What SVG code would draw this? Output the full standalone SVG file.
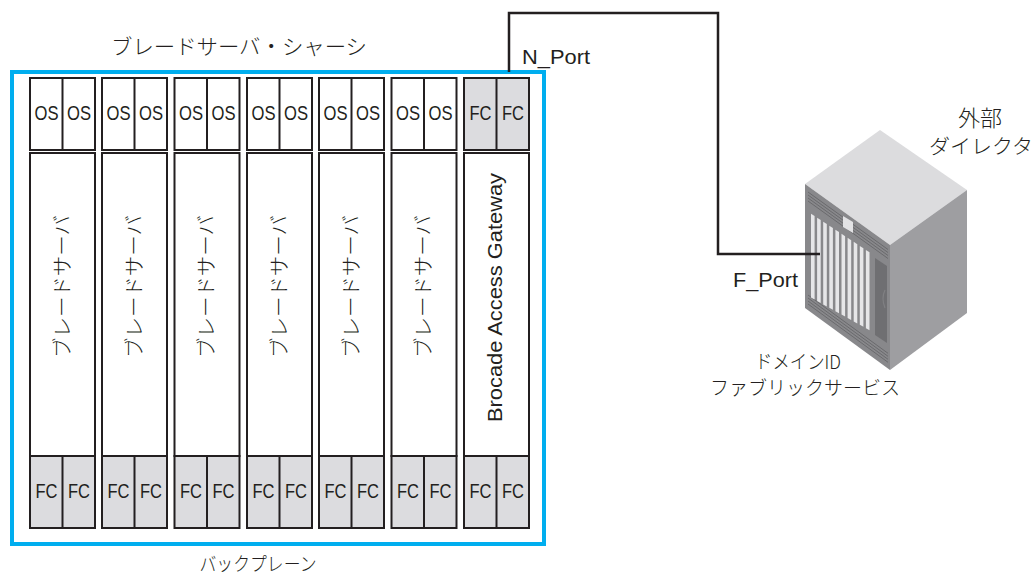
<svg xmlns="http://www.w3.org/2000/svg" width="1035" height="575" viewBox="0 0 1035 575">
  <style>
    .box { fill: #ffffff; stroke: #231f20; stroke-width: 2; }
    .fc { fill: #dcdcdf; stroke: #231f20; stroke-width: 2; }
    .div { stroke: #231f20; stroke-width: 2; }
    .lat { font-family: "Liberation Sans", Arial, sans-serif; fill: #231f20; font-size: 21px; }
    .jp { font-family: "Noto Sans CJK JP", sans-serif; fill: #231f20; font-weight: 300; }
    .wire { fill: none; stroke: #231f20; stroke-width: 2.5; }
    .vent { stroke: #6a6a6d; stroke-width: 1; }
    .bar { fill: #e6e6e8; }
  </style>
  <defs>
    <!-- one blade slot: OS pair on top, body, FC pair at the bottom -->
    <g id="slot">
      <rect class="box" x="0" y="78" width="65" height="72"/>
      <line class="div" x1="32.5" y1="78" x2="32.5" y2="150"/>
      <text class="lat" x="16.5" y="120" text-anchor="middle" textLength="24" lengthAdjust="spacingAndGlyphs">OS</text>
      <text class="lat" x="49" y="120" text-anchor="middle" textLength="24" lengthAdjust="spacingAndGlyphs">OS</text>
      <rect class="box" x="0" y="153" width="65" height="303"/>
      <text class="jp" font-size="20" transform="translate(39.5,286.5) rotate(-90)" text-anchor="middle" textLength="143" lengthAdjust="spacingAndGlyphs">ブレードサーバ</text>
      <rect class="fc" x="0" y="456" width="65" height="72"/>
      <line class="div" x1="32.5" y1="456" x2="32.5" y2="528"/>
      <text class="lat" x="16.5" y="498" text-anchor="middle" textLength="22" lengthAdjust="spacingAndGlyphs">FC</text>
      <text class="lat" x="49" y="498" text-anchor="middle" textLength="22" lengthAdjust="spacingAndGlyphs">FC</text>
    </g>
  </defs>

  <!-- blade server chassis -->
  <g id="chassis">
    <rect x="12" y="72" width="532" height="472" fill="none" stroke="#00aeef" stroke-width="4"/>
    <text class="jp" font-size="21" x="239" y="54" text-anchor="middle" textLength="256" lengthAdjust="spacingAndGlyphs">ブレードサーバ・シャーシ</text>
    <text class="jp" font-size="19" x="258" y="571" text-anchor="middle" textLength="117" lengthAdjust="spacingAndGlyphs">バックプレーン</text>
  </g>

  <g id="blade-1"><use href="#slot" x="30"/></g>
  <g id="blade-2"><use href="#slot" x="102"/></g>
  <g id="blade-3"><use href="#slot" x="174.5"/></g>
  <g id="blade-4"><use href="#slot" x="247"/></g>
  <g id="blade-5"><use href="#slot" x="319"/></g>
  <g id="blade-6"><use href="#slot" x="391.5"/></g>

  <!-- access gateway module -->
  <g id="access-gateway">
    <rect class="fc" x="464" y="78" width="65" height="72"/>
    <line class="div" x1="496.5" y1="78" x2="496.5" y2="150"/>
    <text class="lat" x="480.5" y="120" text-anchor="middle" textLength="22" lengthAdjust="spacingAndGlyphs">FC</text>
    <text class="lat" x="513" y="120" text-anchor="middle" textLength="22" lengthAdjust="spacingAndGlyphs">FC</text>
    <rect class="box" x="464" y="153" width="65" height="303"/>
    <text class="lat" transform="translate(502,297.5) rotate(-90)" text-anchor="middle" textLength="249" lengthAdjust="spacingAndGlyphs">Brocade Access Gateway</text>
    <rect class="fc" x="464" y="456" width="65" height="72"/>
    <line class="div" x1="496.5" y1="456" x2="496.5" y2="528"/>
    <text class="lat" x="480.5" y="498" text-anchor="middle" textLength="22" lengthAdjust="spacingAndGlyphs">FC</text>
    <text class="lat" x="513" y="498" text-anchor="middle" textLength="22" lengthAdjust="spacingAndGlyphs">FC</text>
  </g>

  <!-- external director cabinet -->
  <g id="director">
    <polygon points="880,130 967,190 890,245 805,184" fill="#dcdcde"/>
    <polygon points="805,184 890,245 890,370 805,308" fill="#88888b"/>
    <polygon points="890,245 967,190 967,313 890,370" fill="#9e9ea1"/>
    <!-- top vents -->
    <line class="vent" x1="808" y1="192" x2="888" y2="249.5"/>
    <line class="vent" x1="808" y1="195" x2="888" y2="252.5"/>
    <line class="vent" x1="808" y1="198" x2="888" y2="255.5"/>
    <line class="vent" x1="808" y1="201" x2="888" y2="258.5"/>
    <!-- bottom vents -->
    <line class="vent" x1="808" y1="295" x2="888" y2="353.3"/>
    <line class="vent" x1="808" y1="298" x2="888" y2="356.3"/>
    <line class="vent" x1="808" y1="301" x2="888" y2="359.3"/>
    <line class="vent" x1="808" y1="304" x2="888" y2="362.3"/>
    <!-- badge -->
    <polygon points="843,216 853,222 853,233 843,227" fill="#e2e2e4"/>
    <!-- card slots -->
    <polygon class="bar" points="811,213.7 814.6,216 814.6,299.6 811,297.6"/>
    <polygon class="bar" points="817.1,217.7 820.7,220.1 820.7,303 817.1,301"/>
    <polygon class="bar" points="823.2,221.7 826.8,224.1 826.8,306.4 823.2,304.4"/>
    <polygon class="bar" points="829.3,225.7 832.9,228.1 832.9,309.8 829.3,307.8"/>
    <polygon class="bar" points="835.4,229.8 839,232.1 839,313.2 835.4,311.2"/>
    <polygon class="bar" points="841.5,233.8 845.1,236.2 845.1,316.6 841.5,314.6"/>
    <polygon class="bar" points="847.6,237.8 851.2,240.2 851.2,320 847.6,318"/>
    <polygon class="bar" points="853.7,241.8 857.3,244.2 857.3,323.4 853.7,321.4"/>
    <polygon class="bar" points="859.8,245.9 863.4,248.3 863.4,326.8 859.8,324.8"/>
    <polygon class="bar" points="865.9,249.9 869.5,252.3 869.5,330.2 865.9,328.2"/>
    <!-- door panel -->
    <polygon points="875,258 887,266 887,343 875,335" fill="#6f6f72"/>
    <path d="M885,290 q-4,8 0,18" fill="none" stroke="#808083" stroke-width="1.2"/>
    <text class="jp" font-size="22" x="980" y="126" text-anchor="middle">外部</text>
    <text class="jp" font-size="20" x="981" y="154" text-anchor="middle" textLength="104" lengthAdjust="spacingAndGlyphs">ダイレクタ</text>
    <text class="jp" font-size="19" x="798" y="369" text-anchor="middle" textLength="86" lengthAdjust="spacingAndGlyphs">ドメインID</text>
    <text class="jp" font-size="19" x="805" y="395" text-anchor="middle" textLength="190" lengthAdjust="spacingAndGlyphs">ファブリックサービス</text>
  </g>

  <!-- fabric link between gateway and director -->
  <g id="connectors">
    <path class="wire" d="M509,72 V13 H718 V254 H820"/>
    <text class="lat" font-size="20" x="522" y="64" textLength="68" lengthAdjust="spacingAndGlyphs">N_Port</text>
    <text class="lat" font-size="20" x="733" y="287" textLength="65" lengthAdjust="spacingAndGlyphs">F_Port</text>
  </g>
</svg>
